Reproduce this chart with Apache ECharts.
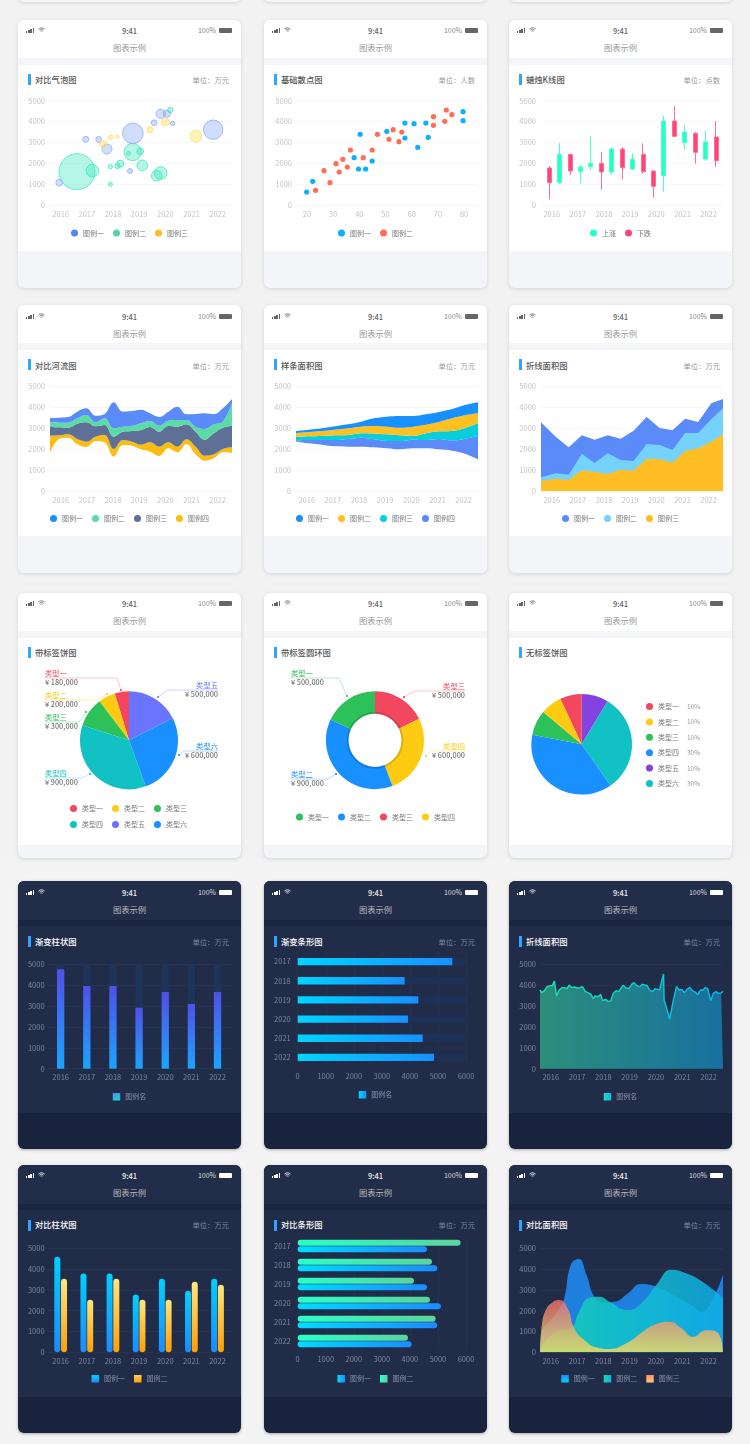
<!DOCTYPE html>
<html>
<head>
<meta charset="utf-8">
<title>图表示例</title>
<script src="https://cdn.jsdelivr.net/npm/echarts@6/dist/echarts.min.js"></script>
<style>
html,body{margin:0;padding:0;background:#f2f2f2;}
body{position:relative;width:750px;height:1444px;overflow:hidden;font-family:"Noto Sans CJK SC","Noto Sans",sans-serif;}
.card{position:absolute;width:223px;border-radius:6px;overflow:hidden;box-shadow:0 1px 4px rgba(0,0,0,.12);background:#f4f5f9;}
.card .head{position:absolute;left:0;top:0;width:100%;height:38px;background:#fff;}
.card .band{position:absolute;left:0;top:38px;width:100%;height:7px;background:#f4f5f9;}
.card .body{position:absolute;left:0;top:45px;width:100%;height:186px;background:#fff;}
.card.dark{background:#19233e;box-shadow:0 1px 3px rgba(0,0,0,.3);}
.dark .head{height:39px;background:#222d4a;}
.dark .band{top:39px;height:6px;background:#1c2640;}
.dark .body{background:#212c49;height:187px;}
.txt{position:absolute;white-space:nowrap;line-height:1;}
.time{left:0;width:100%;text-align:center;font-size:7.5px;color:#666;font-weight:500;}
.pct{font-size:7px;color:#888;}
.name{left:0;width:100%;text-align:center;font-size:8.3px;color:#999;}
.ttl{left:17px;font-size:8.3px;color:#555;font-weight:500;}
.unit{right:12px;font-size:7.3px;color:#999;}
.dark .time{color:#eee;}.dark .pct{color:#ddd;}.dark .name{color:#bbb;}.dark .ttl{color:#fff;}.dark .unit{color:#7d869d;}
.mark{position:absolute;left:10px;width:3px;height:11px;background:#2ea6ff;}
.sig{position:absolute;left:7.7px;width:10px;height:5px;}
.sig i{position:absolute;bottom:0;width:1.7px;background:#666;}
.dark .sig i{background:#fff;}
.wifi{position:absolute;left:19.5px;width:7px;height:5.5px;}
.batt{position:absolute;right:9.3px;width:12.5px;height:4.3px;background:#666;border-radius:1px;}
.dark .batt{background:#fff;}
.chart{position:absolute;left:0;top:0;}
.frag{position:absolute;top:-20px;width:223px;height:22px;border-radius:6px;background:#f4f5f9;box-shadow:0 1px 4px rgba(0,0,0,.12);}
#lower{position:absolute;left:0;top:858px;width:750px;height:586px;background:#f3f3f3;}
</style>
</head>
<body>
<div id="lower"></div>
<script>
var YEARS = [2016,2017,2018,2019,2020,2021,2022];

// bubbles: [year, value, magnitude]
var bubbleOne = [[2015.94,1070,20],[2016.96,3147,18],[2017.45,3147,17],[2017.77,2684,30],[2018.76,3435,62],[2018.65,1629,15],[2019.57,3946,17],[2019.82,4377,28],[2020.06,4377,22],[2020.28,3914,13],[2021.83,3610,58]];
var bubbleTwo = [[2016.62,1597,108],[2017.21,1645,38],[2017.90,1837,13],[2017.90,990,12],[2018.17,1869,16],[2018.28,1981,21],[2018.75,2540,52],[2018.59,2476,12],[2019.04,2572,20],[2019.12,1901,32],[2019.67,1406,32],[2019.82,1534,38],[2020.19,4553,16]];
var bubbleThree = [[2017.62,2923,21],[2017.91,3243,14],[2018.17,3275,10],[2019.41,3610,18],[2020.0,3978,24],[2021.17,3291,36]];

var scatterOne = [[19.9,623],[22.2,1134],[38.0,2268],[40.3,3387],[39.7,1725],[42.4,1725],[44.9,2109],[50.5,3530],[57.4,3930],[57.4,3211],[60.9,3898],[62.3,2764],[65.4,3930],[66.3,3243],[79.6,4473],[79.6,4042]];
var scatterTwo = [[23.3,703],[26.5,1645],[28.8,1070],[31.1,1981],[32.3,1581],[33.7,2188],[35.4,1821],[36.6,2636],[41.5,2268],[44.9,2636],[46.9,3387],[51.3,3147],[52.9,3610],[55.1,3035],[56.2,3498],[68.3,4233],[68.3,3818],[72.6,4010],[73.2,4553],[75.3,4329]];
var scatterTicks = [20,30,40,50,60,70,80];

// candles: [year, open, close, low, high]
var candleUp = [[2016.31,1070,2428,990,2955],[2017.11,1613,1821,1038,1917],[2017.50,1837,1997,1677,3307],[2018.30,1581,2684,1438,2764],[2019.10,1725,2188,1677,2476],[2020.29,1406,4026,639,4265],[2021.09,2987,3498,2636,3850],[2021.89,2204,3019,2125,3546]];
var candleDown = [[2015.91,1773,1070,272,1869],[2016.71,2428,1629,1438,2444],[2017.90,1997,1581,751,2540],[2018.70,2684,1789,1230,2764],[2019.50,2428,1597,1502,2955],[2019.89,1629,895,351,1661],[2020.69,4026,3291,3275,4744],[2021.49,3435,2524,1981,3498],[2022.29,3259,2125,1837,4026]];

var riverX = ['2015.6','2015.95','2016.3','2016.65','2017.0','2017.35','2017.7','2018.05','2018.4','2018.75','2019.1','2019.45','2019.8','2020.15','2020.5','2020.85','2021.2','2021.55','2021.9','2022.25','2022.55'];
var riverTopOne = [3487,3503,3534,3789,3948,3598,3678,4235,3789,3821,3885,3709,3534,3789,4028,3662,3678,3709,3662,3948,4394];
var riverTopTwo = [3280,3264,3264,3471,3630,3280,3471,2993,3073,3104,3232,3343,3120,3359,3391,3391,3057,2961,3184,3311,4187];
var riverTopThree = [3057,3041,3025,3216,3280,3089,3152,2595,2834,2866,2913,3057,2834,3104,3073,3184,2834,2452,2754,3025,3120];
var riverTopFour = [2643,2659,2706,2484,2356,2595,2675,2006,2436,2356,2213,2324,2117,2324,2117,2468,2117,1688,1751,2006,2086];
var riverBottom = [1831,2484,2547,2229,2101,2388,2324,1640,2197,2165,1990,1879,1672,2038,1847,2245,1751,1449,1560,1847,1815];

var splineX = ['2015.6','2016.1','2016.6','2017.1','2017.6','2018.1','2018.6','2019.1','2019.6','2020.1','2020.6','2021.1','2021.6','2022.1','2022.55'];
var splineTopOne = [2866,2929,2993,3089,3184,3311,3471,3550,3582,3582,3662,3773,3916,4107,4235];
var splineTopTwo = [2770,2818,2866,2929,2993,3073,3104,3073,3025,3073,3168,3295,3471,3614,3709];
var splineTopThree = [2579,2611,2627,2659,2675,2754,2738,2706,2659,2627,2754,2850,2866,3009,3248];
var splineTopFour = [2420,2436,2436,2436,2484,2547,2468,2388,2388,2452,2436,2484,2420,2499,2643];
var splineBottom = [2356,2277,2213,2133,2117,2117,2086,2038,1990,2038,2038,1990,1926,1783,1512];

var lineX = [2015.59,2016.15,2016.65,2017.15,2017.64,2018.14,2018.64,2019.13,2019.63,2020.13,2020.62,2021.1,2021.6,2022.1,2022.55];
var lineOne = [3280,2595,2086,2659,2452,2659,2499,2882,3534,3009,2897,3455,3295,4187,4394];
var lineTwo = [653,844,780,1783,1337,1799,1481,1433,2245,2197,1958,2770,2770,3423,3948];
var lineThree = [478,589,525,987,907,812,1019,971,1544,1512,1353,1910,2038,2356,2706];

var pieNames = ['类型一','类型二','类型三','类型四','类型五','类型六'];
var pieColors = {'类型一':'#f2475f','类型二':'#ffcb12','类型三':'#2dc159','类型四':'#12c1c4','类型五':'#6a74ff','类型六':'#1890ff'};

// drawn order, anticlockwise from 12 o'clock; shares
var pieOneOrder = ['类型一','类型二','类型三','类型四','类型六','类型五'];
var pieOneShares = [17,20,35,128,97,63];
var pieOneAmounts = {'类型一':'¥ 180,000','类型二':'¥ 200,000','类型三':'¥ 300,000','类型四':'¥ 900,000','类型五':'¥ 500,000','类型六':'¥ 600,000'};

// drawn clockwise from 12 o'clock
var ringNames = ['类型一','类型二','类型三','类型四'];
var ringOrder = ['类型三','类型四','类型二','类型一'];
var ringShares = [64,95,136,65];
var ringAmounts = {'类型一':'¥ 500,000','类型二':'¥ 900,000','类型三':'¥ 500,000','类型四':'¥ 600,000'};
var ringColors = {'类型一':'#2dc159','类型二':'#1890ff','类型三':'#f2475f','类型四':'#ffcb12'};

var pieTwoOrder = ['类型五','类型六','类型四','类型三','类型二','类型一'];
var pieTwoShares = [31,114,136,29,25,25];
var pieTwoPercent = {'类型一':'10%','类型二':'10%','类型三':'10%','类型四':'30%','类型五':'10%','类型六':'30%'};
var pieTwoColors = {'类型一':'#f2475f','类型二':'#ffcb12','类型三':'#2dc159','类型四':'#1890ff','类型五':'#8442de','类型六':'#12c1c4'};

var barValues = [4760,3962,3962,2923,3674,3099,3674];
var hbarYears = ['2017','2018','2019','2020','2021','2022'];
var hbarValues = [5511,3812,4299,3931,4454,4857];

var trendX = [2015.59,2015.66,2015.76,2015.86,2015.96,2016.06,2016.14,2016.22,2016.32,2016.42,2016.52,2016.62,2016.70,2016.80,2016.90,2017.01,2017.11,2017.21,2017.31,2017.41,2017.52,2017.62,2017.69,2017.80,2017.90,2017.97,2018.08,2018.18,2018.28,2018.38,2018.48,2018.59,2018.69,2018.76,2018.87,2018.97,2019.07,2019.17,2019.27,2019.38,2019.48,2019.58,2019.66,2019.76,2019.86,2019.96,2020.06,2020.14,2020.22,2020.29,2020.31,2020.39,2020.52,2020.65,2020.78,2020.88,2020.98,2021.08,2021.18,2021.29,2021.39,2021.49,2021.59,2021.69,2021.80,2021.87,2021.97,2022.08,2022.18,2022.28,2022.38,2022.48,2022.55];
var trendValues = [3769,3641,3737,3929,3977,3977,4200,3481,3769,3881,3881,3833,4008,3881,3913,3865,3881,3929,3705,3641,3577,3354,3481,3450,3561,3258,3322,3226,3242,3609,3737,3689,3897,3993,3865,3833,4024,4120,3977,3929,4040,4008,3993,3769,3689,3833,3801,3769,4216,4535,3290,2970,2380,3210,3929,3769,3801,3641,3801,3897,3737,3673,3545,3769,3769,3897,3833,3258,3593,3689,3609,3625,3705];

var pairOne = [4592,3792,3792,2784,3536,2960,3536];
var pairTwo = [3536,2528,3536,2528,2528,3392,3248];
var hpairOne = [4608,4976,4608,5107,4976,4062];
var hpairTwo = [5807,4786,4145,4715,4917,3931];

var compareOne = [[2015.59,0],[2015.66,992],[2015.94,1472],[2016.25,1952],[2016.51,2592],[2016.76,4192],[2017.06,4480],[2017.36,3712],[2017.66,2672],[2018.04,2400],[2018.42,2432],[2018.93,2832],[2019.44,3280],[2020.01,3152],[2020.78,2672],[2021.35,2272],[2021.73,1952],[2022.11,2432],[2022.55,3744]];
var compareTwo = [[2015.59,0],[2015.75,432],[2015.94,752],[2016.32,1072],[2016.76,1184],[2017.08,1952],[2017.46,2624],[2017.85,2672],[2018.23,2432],[2018.93,2032],[2019.5,2432],[2020.01,3232],[2020.59,3968],[2021.16,3792],[2021.67,3472],[2022.55,2624]];
var compareThree = [[2015.59,0],[2015.66,1312],[2015.81,2032],[2016.06,2400],[2016.32,2512],[2016.64,2112],[2016.89,1152],[2017.27,592],[2017.72,240],[2018.23,160],[2018.87,432],[2019.5,992],[2020.01,1360],[2020.52,1472],[2020.97,1152],[2021.41,736],[2021.92,1056],[2022.31,992],[2022.55,0]];

var FONT = '"Noto Sans CJK SC","Noto Sans",sans-serif';
var COL_X = [18,264,509];
var ROW_Y = [20,305,593,881,1165];

var grad = function(x2,y2,c1,c2){
  return new echarts.graphic.LinearGradient(0,0,x2,y2,[{offset:0,color:c1},{offset:1,color:c2}]);
};
var plain_number = function(v){ return ''+v; };

var add_card = function(row,col,dark,title,unit,option,height){
  var card = document.createElement('div');
  var h = height||268;
  card.className = 'card'+(dark?' dark':'');
  card.style.left = COL_X[col]+'px';
  card.style.top = ROW_Y[row]+'px';
  card.style.height = h+'px';
  var dy = (row==1||row==3)?1:0;
  var wifiColor = dark?'#fff':'#666';
  card.innerHTML =
    '<div class="head"></div><div class="band"></div><div class="body"'+(row==2?' style="height:207px"':'')+'></div>'+
    '<div class="sig" style="top:'+(7.5+dy)+'px"><i style="left:0;height:1.8px"></i><i style="left:2.3px;height:2.8px"></i><i style="left:4.6px;height:3.8px"></i><i style="left:6.9px;height:5px"></i></div>'+
    '<svg class="wifi" style="top:'+(7+dy)+'px" viewBox="0 0 16 12"><path d="M1 4.5a10 10 0 0 1 14 0M3.5 7a6.5 6.5 0 0 1 9 0M6 9.5a3 3 0 0 1 4 0" fill="none" stroke="'+wifiColor+'" stroke-width="1.8"/></svg>'+
    '<div class="txt time" style="top:'+(7+dy)+'px">9:41</div>'+
    '<div class="txt pct" style="top:'+(7+dy)+'px;right:25px">100%</div>'+
    '<div class="batt" style="top:'+(8.3+dy)+'px"></div>'+
    '<div class="txt name" style="top:'+(23+dy)+'px">图表示例</div>'+
    '<div class="mark" style="top:'+(54+(row==3||row==4?1:0))+'px"></div>'+
    '<div class="txt ttl" style="top:'+(55+dy)+'px">'+title+'</div>'+
    (unit?'<div class="txt unit" style="top:'+(57+dy)+'px">'+unit+'</div>':'');
  var box = document.createElement('div');
  box.className = 'chart';
  box.style.width = '223px';
  box.style.height = h+'px';
  card.appendChild(box);
  document.body.appendChild(card);
  var chart = echarts.init(box,null,{renderer:'canvas',width:223,height:h});
  option.animation = false;
  option.textStyle = {fontFamily:FONT};
  chart.setOption(option);
  return chart;
};

var add_fragment = function(col){
  var d = document.createElement('div');
  d.className = 'frag';
  d.style.left = COL_X[col]+'px';
  document.body.appendChild(d);
};

var light_y = function(){
  return {type:'value',min:0,max:5000,interval:1000,axisLine:{show:false},axisTick:{show:false},
    axisLabel:{fontSize:7.5,color:'#c4c4c4',margin:5,formatter:plain_number},splitLine:{lineStyle:{color:'#f7f7f7',width:1}}};
};
var dark_y = function(margin){
  return {type:'value',min:0,max:5000,interval:1000,axisLine:{show:false},axisTick:{show:false},
    axisLabel:{fontSize:7.5,color:'#7d869d',margin:margin,formatter:plain_number},splitLine:{lineStyle:{color:'#28334f',width:1}}};
};
// numeric x axis whose labels sit on the years only
var year_x = function(color){
  return {type:'value',min:2015.59,max:2022.55,axisLine:{show:false},axisTick:{show:false},splitLine:{show:false},
    axisLabel:{fontSize:7.5,color:color,margin:5,customValues:YEARS,formatter:plain_number}};
};
// hidden category axis that carries the stacked bands
var band_x = function(xs){
  return {type:'category',show:false,boundaryGap:false,data:xs};
};
var cat_x = function(){
  return {type:'category',data:YEARS.map(String),axisLine:{show:false},axisTick:{show:false},
    axisLabel:{fontSize:7.5,color:'#7d869d',margin:5}};
};
var legend = function(names,top,icon,dark,extra){
  var l = {top:top,left:'center',padding:0,icon:icon||'circle',itemWidth:7,itemHeight:7,itemGap:9,
    textStyle:{fontSize:7,color:dark?'#8a93a8':'#777'},data:names};
  for(var k in extra||{}){ l[k] = extra[k]; }
  return l;
};
var zip_xy = function(xs,ys){
  return xs.map(function(x,i){return [x,ys[i]];});
};
// stacked band between two boundary lines
var band_series = function(name,upper,lower,color){
  var diff = upper.map(function(v,i){return v-lower[i];});
  return {name:name,type:'line',xAxisIndex:1,stack:'s',smooth:0.4,showSymbol:false,lineStyle:{width:0},
    itemStyle:{color:color},areaStyle:{color:color,opacity:1},data:diff};
};
var band_base = function(values){
  return {name:'base',type:'line',xAxisIndex:1,stack:'s',smooth:0.4,showSymbol:false,lineStyle:{width:0},data:values};
};

// 对比气泡图
var bubble_series = function(name,data,stroke,fill){
  return {name:name,type:'scatter',data:data,symbolSize:function(d){return d[2]/3;},
    itemStyle:{color:fill,borderColor:stroke,borderWidth:0.8,opacity:1}};
};
add_card(0,0,false,'对比气泡图','单位：万元',{
  grid:{left:32,width:182,top:80.7,height:104.3},
  xAxis:year_x('#c4c4c4'),yAxis:light_y(),
  legend:legend([
    {name:'图例一',itemStyle:{color:'#5584f6',borderWidth:0}},
    {name:'图例二',itemStyle:{color:'#53d6a3',borderWidth:0}},
    {name:'图例三',itemStyle:{color:'#ffbf24',borderWidth:0}}],209.5),
  series:[
    bubble_series('图例二',bubbleTwo,'#3fe8c0','rgba(63,232,190,.38)'),
    bubble_series('图例一',bubbleOne,'#8eaef8','rgba(85,132,246,.28)'),
    bubble_series('图例三',bubbleThree,'#ffe060','rgba(255,215,60,.35)')
  ]
});

// 基础散点图
add_card(0,1,false,'基础散点图','单位：人数',{
  grid:{left:33,width:181,top:80.7,height:104.3},
  xAxis:{type:'value',min:16.2,max:85.3,axisLine:{show:false},axisTick:{show:false},splitLine:{show:false},
    axisLabel:{fontSize:7.5,color:'#c4c4c4',margin:5,customValues:scatterTicks}},
  yAxis:light_y(),
  legend:legend(['图例一','图例二'],209.5),
  series:[
    {name:'图例一',type:'scatter',data:scatterOne,symbolSize:5.2,itemStyle:{color:'#0bb0ff',opacity:1}},
    {name:'图例二',type:'scatter',data:scatterTwo,symbolSize:5.2,itemStyle:{color:'#ff6e55',opacity:1}}
  ]
});

// 蜡烛K线图
add_card(0,2,false,'蜡烛K线图','单位：点数',{
  grid:{left:32,width:182,top:80.7,height:104.3},
  xAxis:year_x('#c4c4c4'),yAxis:light_y(),
  legend:legend([
    {name:'上涨',itemStyle:{color:'#26ffc6',borderWidth:0}},
    {name:'下跌',itemStyle:{color:'#ff4477',borderWidth:0}}],209.5),
  series:[
    {name:'上涨',type:'candlestick',barWidth:4.5,data:candleUp,itemStyle:{color:'#26ffc6',color0:'#26ffc6',borderColor:'#48ffd0',borderColor0:'#48ffd0',borderWidth:1}},
    {name:'下跌',type:'candlestick',barWidth:4.5,data:candleDown,itemStyle:{color:'#ff4477',color0:'#ff4477',borderColor:'#ff6f93',borderColor0:'#ff6f93',borderWidth:1}}
  ]
});

// 对比河流图
add_card(1,0,false,'对比河流图','单位：万元',{
  grid:{left:32,width:182,top:81.3,height:104.7},
  xAxis:[year_x('#c4c4c4'),band_x(riverX)],yAxis:light_y(),
  legend:legend([
    {name:'图例一',itemStyle:{color:'#1890ff'}},'图例二','图例三','图例四'],210),
  series:[
    band_base(riverBottom),
    band_series('图例四',riverTopFour,riverBottom,'#fbbd12'),
    band_series('图例三',riverTopThree,riverTopFour,'#5f7097'),
    band_series('图例二',riverTopTwo,riverTopThree,'#5bdba6'),
    band_series('图例一',riverTopOne,riverTopTwo,'#5a8bf8')
  ]
});

// 样条面积图
add_card(1,1,false,'样条面积图','单位：万元',{
  grid:{left:32,width:182,top:81.3,height:104.7},
  xAxis:[year_x('#c4c4c4'),band_x(splineX)],yAxis:light_y(),
  legend:legend(['图例一','图例二','图例三','图例四'],210),
  series:[
    band_base(splineBottom),
    band_series('图例四',splineTopFour,splineBottom,'#5a8bf8'),
    band_series('图例三',splineTopThree,splineTopFour,'#08cedb'),
    band_series('图例二',splineTopTwo,splineTopThree,'#ffc021'),
    band_series('图例一',splineTopOne,splineTopTwo,'#1890ff')
  ]
});

// 折线面积图
var plain_area = function(name,xs,ys,color){
  return {name:name,type:'line',showSymbol:false,lineStyle:{width:0},itemStyle:{color:color},
    areaStyle:{color:color,opacity:1},data:zip_xy(xs,ys)};
};
add_card(1,2,false,'折线面积图','单位：万元',{
  grid:{left:32,width:182,top:81.3,height:104.7},
  xAxis:year_x('#c4c4c4'),yAxis:light_y(),
  legend:legend(['图例一','图例二','图例三'],210),
  series:[
    plain_area('图例一',lineX,lineOne,'#5a8bf8'),
    plain_area('图例二',lineX,lineTwo,'#75d2fa'),
    plain_area('图例三',lineX,lineThree,'#ffbf24')
  ]
});

// pie leader lines, card pixels: [start, elbow, end under the name]
var pieOneLines = {
  '类型一':[[103,97],[99,85],[27,85]],
  '类型二':[[89,101],[79,107],[27,107]],
  '类型三':[[68,119],[61,129],[27,129]],
  '类型四':[[72,181],[64,185],[27,185]],
  '类型五':[[140,104],[150,97],[200,97]],
  '类型六':[[161,162],[166,158],[200,158]]
};
var ringLines = {
  '类型一':[[83,103],[75,85],[27,85]],
  '类型二':[[72,181],[64,186],[27,186]],
  '类型三':[[140,104],[151,98],[201,98]],
  '类型四':[[162,163],[167,158],[201,158]]
};

var leader_layout = function(lines,names){
  return function(p){
    var pts = lines[names[p.dataIndex]];
    var end = pts[2];
    return {x:end[0],y:end[1],align:end[0]<pts[1][0]?'left':'right',verticalAlign:'middle',labelLinePoints:pts};
  };
};
var leader_dots = function(lines,names,colors){
  return names.map(function(n){
    return {type:'circle',silent:true,z:10,shape:{cx:lines[n][0][0],cy:lines[n][0][1],r:1.1},style:{fill:colors[n]}};
  });
};
var labelled_data = function(names,shares,amounts,colors){
  return names.map(function(n,i){
    return {name:n,value:shares[i],itemStyle:{color:colors[n]},
      label:{overflow:'none',formatter:'{n|'+n+'}\n{v|'+amounts[n]+'}',rich:{
        n:{fontSize:7.3,lineHeight:9.3,color:colors[n]},
        v:{fontSize:7.3,lineHeight:9.3,color:'#777',fontWeight:500}}},
      labelLine:{lineStyle:{color:colors[n],opacity:.4,width:.8}}};
  });
};

// 带标签饼图
add_card(2,0,false,'带标签饼图','',{
  legend:legend(pieNames,212,'circle',false,{left:52,width:135}),
  graphic:leader_dots(pieOneLines,pieOneOrder,pieColors),
  series:[{type:'pie',center:[111,147.3],radius:[0,49],clockwise:false,startAngle:90,
    data:labelled_data(pieOneOrder,pieOneShares,pieOneAmounts,pieColors),
    label:{show:true,overflow:'none'},labelLine:{show:true},labelLayout:leader_layout(pieOneLines,pieOneOrder)}]
},265);

// 带标签圆环图
add_card(2,1,false,'带标签圆环图','',{
  legend:legend(ringNames,220.5),
  graphic:leader_dots(ringLines,ringOrder,ringColors),
  series:[
    {type:'pie',center:[111,147.3],radius:[26.5,49],clockwise:true,startAngle:90,
      data:labelled_data(ringOrder,ringShares,ringAmounts,ringColors),
      label:{show:true,overflow:'none'},labelLine:{show:true},labelLayout:leader_layout(ringLines,ringOrder)},
    {type:'pie',silent:true,center:[111,147.3],radius:[26.5,28.5],label:{show:false},labelLine:{show:false},
      data:[{name:'shade',value:1,itemStyle:{color:'rgba(0,0,0,.14)'}}]}
  ]
},265);

// 无标签饼图
var pie_two_data = pieTwoOrder.map(function(n,i){
  return {name:n,value:pieTwoShares[i],itemStyle:{color:pieTwoColors[n]}};
});
add_card(2,2,false,'无标签饼图','',{
  legend:legend(pieNames,110,'circle',false,{left:137,orient:'vertical',itemGap:8.4,
    formatter:function(n){return '{n|'+n+'}{p|'+pieTwoPercent[n]+'}';},
    textStyle:{fontSize:7,color:'#777',rich:{n:{fontSize:7,color:'#777',width:29},p:{fontSize:6.5,color:'#999'}}}}),
  series:[{type:'pie',center:[72.7,151.3],radius:[0,50.3],clockwise:true,startAngle:90,label:{show:false},labelLine:{show:false},data:pie_two_data}]
},265);

// 渐变柱状图
add_card(3,0,true,'渐变柱状图','单位：万元',{
  grid:{left:29.6,width:183,top:83.3,height:104.4},
  xAxis:cat_x(),yAxis:dark_y(3),
  legend:legend([{name:'图例名',itemStyle:{color:grad(0,1,'#4a90e8','#19d5d0')}}],212,'rect',true,{itemWidth:7.5,itemHeight:7.5}),
  series:[{name:'图例名',type:'bar',barWidth:7.3,data:barValues,showBackground:true,backgroundStyle:{color:'#1e3358'},
    itemStyle:{color:grad(0,1,'#5050e8','#1ca4ff')}}]
});

// 渐变条形图
var hbar_x = function(){
  return {type:'value',min:0,max:6000,interval:1000,axisLine:{show:false},axisTick:{show:false},
    axisLabel:{fontSize:7.5,color:'#7d869d',margin:5,formatter:plain_number},splitLine:{lineStyle:{color:'#263150',width:1}}};
};
var hbar_y = function(){
  return {type:'category',inverse:true,data:hbarYears,axisLine:{show:false},axisTick:{show:false},
    axisLabel:{fontSize:7.5,color:'#7d869d',margin:7}};
};
add_card(3,1,true,'渐变条形图','单位：万元',{
  grid:{left:33.7,width:168.3,top:71,height:115},
  xAxis:hbar_x(),yAxis:hbar_y(),
  legend:legend([{name:'图例名',itemStyle:{color:grad(1,0,'#00d4ff','#1890ff')}}],210,'rect',true,{itemWidth:7.5,itemHeight:7.5}),
  series:[{name:'图例名',type:'bar',barWidth:7.3,data:hbarValues,showBackground:true,backgroundStyle:{color:'#1d3055'},
    itemStyle:{color:grad(1,0,'#00d4ff','#1890ff')}}]
});

// 折线面积图 (dark)
add_card(3,2,true,'折线面积图','单位：万元',{
  grid:{left:31,width:183,top:83.3,height:104.4},
  xAxis:year_x('#7d869d'),yAxis:dark_y(4),
  legend:legend([{name:'图例名',itemStyle:{color:grad(1,0,'#20ddb5','#10b8e0')}}],212,'rect',true,{itemWidth:7.5,itemHeight:7.5}),
  series:[{name:'图例名',type:'line',showSymbol:false,data:zip_xy(trendX,trendValues),
    lineStyle:{width:1.4,color:grad(1,0,'#1ee6b0','#00b8f0')},
    areaStyle:{opacity:1,color:grad(1,0,'#2b8f7b','#18709f')}}]
});

// 对比柱状图
add_card(4,0,true,'对比柱状图','单位：万元',{
  grid:{left:29.6,width:183,top:83.3,height:104},
  xAxis:cat_x(),yAxis:dark_y(3),
  legend:legend([
    {name:'图例一',itemStyle:{color:grad(0,1,'#00d0ff','#1b8cff')}},
    {name:'图例二',itemStyle:{color:grad(0,1,'#ffd060','#ff9f00')}}],210,'rect',true,{itemWidth:7.5,itemHeight:7.5}),
  series:[
    {name:'图例一',type:'bar',barWidth:6,barGap:'12%',data:pairOne,itemStyle:{borderRadius:3,color:grad(0,1,'#00d0ff','#1b8cff')}},
    {name:'图例二',type:'bar',barWidth:6,data:pairTwo,itemStyle:{borderRadius:3,color:grad(0,1,'#ffe680','#ff9f00')}}
  ]
});

// 对比条形图
add_card(4,1,true,'对比条形图','单位：万元',{
  grid:{left:33.7,width:168.3,top:71.5,height:114},
  xAxis:hbar_x(),yAxis:hbar_y(),
  legend:legend([
    {name:'图例一',itemStyle:{color:grad(1,0,'#00dcff','#1b8cff')}},
    {name:'图例二',itemStyle:{color:grad(1,0,'#2bffc8','#5ad49c')}}],210,'rect',true,{itemWidth:7.5,itemHeight:7.5}),
  series:[
    {name:'图例二',type:'bar',barWidth:6,barGap:'12%',data:hpairTwo,itemStyle:{borderRadius:3,color:grad(1,0,'#2bffc8','#5ad49c')}},
    {name:'图例一',type:'bar',barWidth:6,data:hpairOne,itemStyle:{borderRadius:3,color:grad(1,0,'#00dcff','#1b8cff')}}
  ]
});

// 对比面积图
add_card(4,2,true,'对比面积图','单位：万元',{
  grid:{left:31,width:183,top:83.3,height:104},
  xAxis:year_x('#7d869d'),yAxis:dark_y(4),
  legend:legend([
    {name:'图例一',itemStyle:{color:grad(0,1,'#1890ff','#00cfff')}},
    {name:'图例二',itemStyle:{color:grad(1,0,'#1ed8b0','#10b0e0')}},
    {name:'图例三',itemStyle:{color:grad(0,1,'#ff8a7a','#ffd060')}}],210,'rect',true,{itemWidth:7.5,itemHeight:7.5}),
  series:[
    {name:'图例一',type:'line',smooth:0.5,showSymbol:false,data:compareOne,lineStyle:{width:0},
      areaStyle:{opacity:1,color:'#1e7fde'}},
    {name:'图例二',type:'line',smooth:0.5,showSymbol:false,data:compareTwo,lineStyle:{width:0},
      areaStyle:{opacity:.85,color:grad(1,0,'#15d5b0','#0eaee8')}},
    {name:'图例三',type:'line',smooth:0.5,showSymbol:false,data:compareThree,lineStyle:{width:0},
      areaStyle:{opacity:.8,color:grad(0,1,'#f07070','#f5e060')}}
  ]
});

add_fragment(0);add_fragment(1);add_fragment(2);
</script>
</body>
</html>
